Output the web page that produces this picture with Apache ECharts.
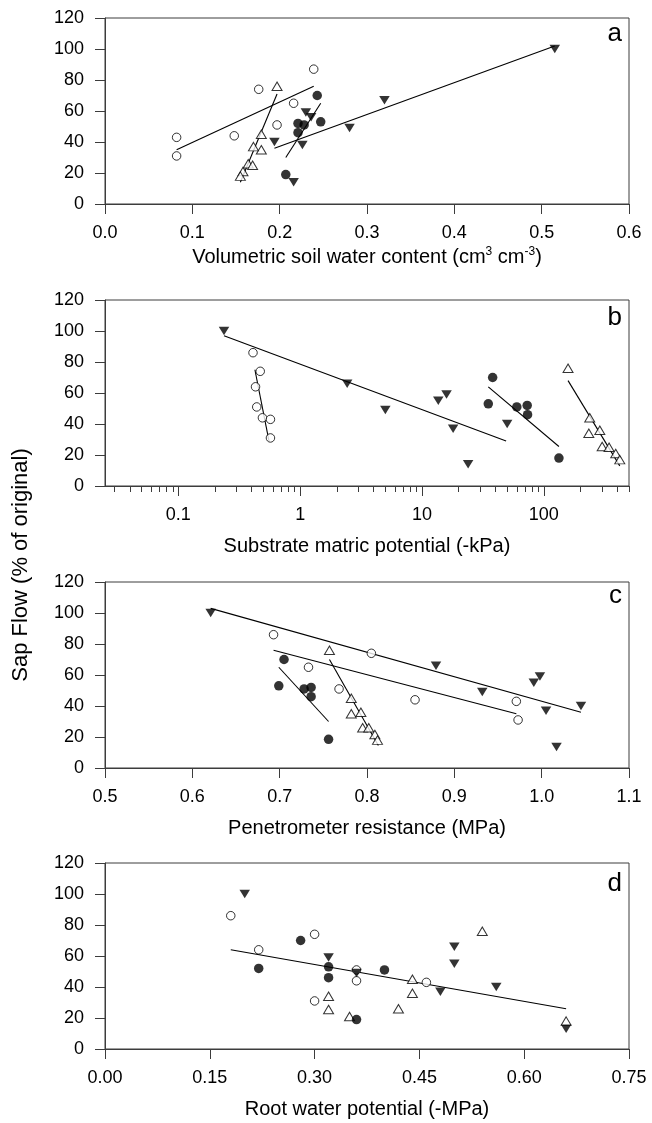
<!DOCTYPE html>
<html>
<head>
<meta charset="utf-8">
<script src="https://cdn.jsdelivr.net/npm/echarts@6/dist/echarts.min.js"></script>
<style>
html,body{margin:0;padding:0;background:#ffffff;}
#chart{width:652px;height:1123px;}
</style>
</head>
<body>
<div id="chart"></div>
<script>
// ---------------- DATA ----------------
// Panel a: Volumetric soil water content (cm3 cm-3)
const aOpenCircle    = [[0.082,43],[0.082,31],[0.148,44],[0.176,74],[0.197,51],[0.216,65],[0.239,87]];
const aOpenTriangle  = [[0.197,76],[0.179,45],[0.179,35],[0.170,37],[0.164,26],[0.169,25],[0.158,21],[0.155,18]];
const aFilledCircle  = [[0.243,70],[0.221,52],[0.228,51],[0.247,53],[0.221,46],[0.207,19]];
const aFilledTri     = [[0.515,100],[0.320,67],[0.280,49],[0.230,59],[0.236,56],[0.194,40],[0.226,38],[0.216,14]];
const aFitOpenCircle   = [[0.082,35],[0.239,76]];
const aFitOpenTriangle = [[0.155,14],[0.197,71]];
const aFitFilledCircle = [[0.207,30],[0.247,65]];
const aFitFilledTri    = [[0.194,36],[0.515,102]];

// Panel b: Substrate matric potential (-kPa), log axis
const bOpenCircle    = [[0.41,86],[0.47,74],[0.43,64],[0.44,51],[0.49,44],[0.57,43],[0.57,31]];
const bOpenTriangle  = [[158,76],[238,44],[234,34],[288,36],[301,25.5],[343,25],[389,21],[420,17]];
const bFilledCircle  = [[38,70],[35,53],[60,51],[73,52],[73.5,46],[133,18]];
const bFilledTri     = [[0.237,100],[2.43,66],[5.0,49],[13.6,55],[15.9,59],[18,37],[23.9,14],[50,40]];
const bFitOpenCircle   = [[0.425,75],[0.555,29]];
const bFitOpenTriangle = [[158,68],[420,13]];
const bFitFilledCircle = [[35,64],[133,25.5]];
const bFitFilledTri    = [[0.237,97],[49,29]];

// Panel c: Penetrometer resistance (MPa)
const cOpenCircle    = [[0.693,86],[0.733,65],[0.805,74],[0.768,51],[0.855,44],[0.971,43],[0.973,31]];
const cOpenTriangle  = [[0.757,76],[0.782,45],[0.782,35],[0.793,36],[0.795,26],[0.802,26],[0.809,21.6],[0.812,18]];
const cFilledCircle  = [[0.705,70],[0.699,53],[0.728,51],[0.736,52],[0.736,46],[0.756,18.5]];
const cFilledTri     = [[0.621,100],[0.879,66],[0.932,49],[0.991,55],[0.998,59],[1.005,37],[1.045,40],[1.017,13.5]];
const cFitOpenCircle   = [[0.693,76],[0.971,35]];
const cFitOpenTriangle = [[0.757,70],[0.813,14.5]];
const cFitFilledCircle = [[0.699,65],[0.756,30]];
const cFitFilledTri    = [[0.621,103],[1.045,36]];

// Panel d: Root water potential (-MPa)
const dOpenCircle    = [[0.18,86],[0.22,64],[0.30,74],[0.30,31],[0.36,51],[0.36,44],[0.46,43]];
const dOpenTriangle  = [[0.54,76],[0.44,45],[0.44,36],[0.32,34],[0.32,25.5],[0.42,26],[0.35,21],[0.66,18]];
const dFilledCircle  = [[0.28,70],[0.22,52],[0.32,53],[0.32,46],[0.40,51],[0.36,19]];
const dFilledTri     = [[0.20,100],[0.32,59],[0.50,66],[0.50,55],[0.56,40],[0.48,37],[0.66,13],[0.36,49]];
const dFitAll          = [[0.18,64],[0.66,26]];

// Axis ticks / labels
const yTicks = {min: 0, max: 120, interval: 20};
const logMinorTicks = [0.03,0.04,0.05,0.06,0.07,0.08,0.09,0.2,0.3,0.4,0.5,0.6,0.7,0.8,0.9,
                       2,3,4,5,6,7,8,9,20,30,40,50,60,70,80,90,200,300,400,500];
const panelLetters = ['a','b','c','d'];
const xTitles = ['Volumetric soil water content (cm{sup|3} cm{sup|-3})',
                 'Substrate matric potential (-kPa)',
                 'Penetrometer resistance (MPa)',
                 'Root water potential (-MPa)'];
const yTitle = 'Sap Flow (% of original)';

// ---------------- STYLE ----------------
const FONT = 'Arial, "Liberation Sans", sans-serif';
const AX = '#3c3c3c';
const gridTops = [18, 300, 582, 863];
const gridH = 186;

const chart = echarts.init(document.getElementById('chart'), null, {renderer: 'canvas'});

function baseAxisLine(){ return {show:true, onZero:false, lineStyle:{color:AX, width:1}}; }
function baseTick(len){ return {show:true, inside:false, length:len, lineStyle:{color:AX, width:1}}; }
function baseLabel(extra){ return Object.assign({color:'#000', fontSize:18, fontFamily:FONT}, extra||{}); }

const grids = gridTops.map(t => ({left:105, right:23, top:t, height:gridH, show:true,
  borderColor:AX, borderWidth:1, backgroundColor:'transparent', containLabel:false}));

const nameStyle = {color:'#000', fontSize:20, fontFamily:FONT,
  rich:{sup:{fontSize:12, fontFamily:FONT, color:'#000', verticalAlign:'top', lineHeight:22}}};

const xAxes = [
  {type:'value', gridIndex:0, position:'bottom', min:0, max:0.6, interval:0.1,
   axisLine:baseAxisLine(), axisTick:baseTick(10), splitLine:{show:false},
   axisLabel:baseLabel({margin:20, formatter:v=>v.toFixed(1)}),
   name:xTitles[0], nameLocation:'middle', nameGap:42, nameTextStyle:nameStyle},
  {type:'log', logBase:10, gridIndex:1, position:'bottom', min:0.025, max:500,
   axisLine:baseAxisLine(), axisTick:baseTick(10), splitLine:{show:false}, minorTick:{show:false},
   axisLabel:baseLabel({margin:20, showMinLabel:false, showMaxLabel:false}),
   name:xTitles[1], nameLocation:'middle', nameGap:50, nameTextStyle:nameStyle},
  {type:'log', logBase:10, gridIndex:1, position:'bottom', min:0.025, max:500,
   axisLine:{show:false}, splitLine:{show:false}, axisLabel:{show:false},
   axisTick:Object.assign(baseTick(6), {customValues:logMinorTicks})},
  {type:'value', gridIndex:2, position:'bottom', min:0.5, max:1.1, interval:0.1,
   axisLine:baseAxisLine(), axisTick:baseTick(10), splitLine:{show:false},
   axisLabel:baseLabel({margin:20, formatter:v=>v.toFixed(1)}),
   name:xTitles[2], nameLocation:'middle', nameGap:50, nameTextStyle:nameStyle},
  {type:'value', gridIndex:3, position:'bottom', min:0, max:0.75, interval:0.15,
   axisLine:baseAxisLine(), axisTick:baseTick(10), splitLine:{show:false},
   axisLabel:baseLabel({margin:20, formatter:v=>v.toFixed(2)}),
   name:xTitles[3], nameLocation:'middle', nameGap:50, nameTextStyle:nameStyle}
];

const yAxes = gridTops.map((t,i) => ({type:'value', gridIndex:i, position:'left',
  min:yTicks.min, max:yTicks.max, interval:yTicks.interval,
  axisLine:baseAxisLine(), axisTick:baseTick(10), splitLine:{show:false},
  axisLabel:baseLabel({margin:21})}));

// marker kinds
const kinds = {
  openCircle:   {symbol:'circle',   symbolSize:8.5,    rotate:0,   itemStyle:{color:'#fff', borderColor:'#000', borderWidth:1}},
  openTriangle: {symbol:'triangle', symbolSize:[10,8.5], rotate:0,   itemStyle:{color:'#fff', borderColor:'#000', borderWidth:1}},
  filledCircle: {symbol:'circle',   symbolSize:9.5,    rotate:0,   itemStyle:{color:'#000', borderColor:'#000', borderWidth:0}},
  filledTri:    {symbol:'triangle', symbolSize:[10.5,8.5], rotate:180, itemStyle:{color:'#000', borderColor:'#000', borderWidth:0}}
};

function scatter(data, xi, yi, kind){
  const k = kinds[kind];
  return {type:'scatter', xAxisIndex:xi, yAxisIndex:yi, data:data, symbol:k.symbol,
    symbolSize:k.symbolSize, symbolRotate:k.rotate, itemStyle:k.itemStyle, z:5,
    emphasis:{disabled:true}, animation:false};
}
function fit(data, xi, yi){
  return {type:'line', xAxisIndex:xi, yAxisIndex:yi, data:data, showSymbol:false, symbol:'none',
    lineStyle:{color:'#000', width:1.1}, z:3, emphasis:{disabled:true}, animation:false};
}

const series = [
  fit(aFitOpenCircle,0,0), fit(aFitOpenTriangle,0,0), fit(aFitFilledCircle,0,0), fit(aFitFilledTri,0,0),
  scatter(aOpenCircle,0,0,'openCircle'), scatter(aOpenTriangle,0,0,'openTriangle'),
  scatter(aFilledCircle,0,0,'filledCircle'), scatter(aFilledTri,0,0,'filledTri'),

  fit(bFitOpenCircle,1,1), fit(bFitOpenTriangle,1,1), fit(bFitFilledCircle,1,1), fit(bFitFilledTri,1,1),
  scatter(bOpenCircle,1,1,'openCircle'), scatter(bOpenTriangle,1,1,'openTriangle'),
  scatter(bFilledCircle,1,1,'filledCircle'), scatter(bFilledTri,1,1,'filledTri'),

  fit(cFitOpenCircle,3,2), fit(cFitOpenTriangle,3,2), fit(cFitFilledCircle,3,2), fit(cFitFilledTri,3,2),
  scatter(cOpenCircle,3,2,'openCircle'), scatter(cOpenTriangle,3,2,'openTriangle'),
  scatter(cFilledCircle,3,2,'filledCircle'), scatter(cFilledTri,3,2,'filledTri'),

  fit(dFitAll,4,3),
  scatter(dOpenCircle,4,3,'openCircle'), scatter(dOpenTriangle,4,3,'openTriangle'),
  scatter(dFilledCircle,4,3,'filledCircle'), scatter(dFilledTri,4,3,'filledTri')
];

const letterY = [34, 318, 596, 884];
const graphic = panelLetters.map((L,i) => ({type:'text', x:622, y:letterY[i], z:10,
  style:{text:L, fontSize:26, fontFamily:FONT, fill:'#000', align:'right', verticalAlign:'middle'}}));
graphic.push({type:'text', x:21, y:565, rotation:Math.PI/2, z:10,
  style:{text:yTitle, fontSize:22, fontFamily:FONT, fill:'#000', align:'center', verticalAlign:'middle'}});

chart.setOption({
  animation:false,
  backgroundColor:'#ffffff',
  grid:grids,
  xAxis:xAxes,
  yAxis:yAxes,
  series:series,
  graphic:graphic
});
</script>
</body>
</html>
